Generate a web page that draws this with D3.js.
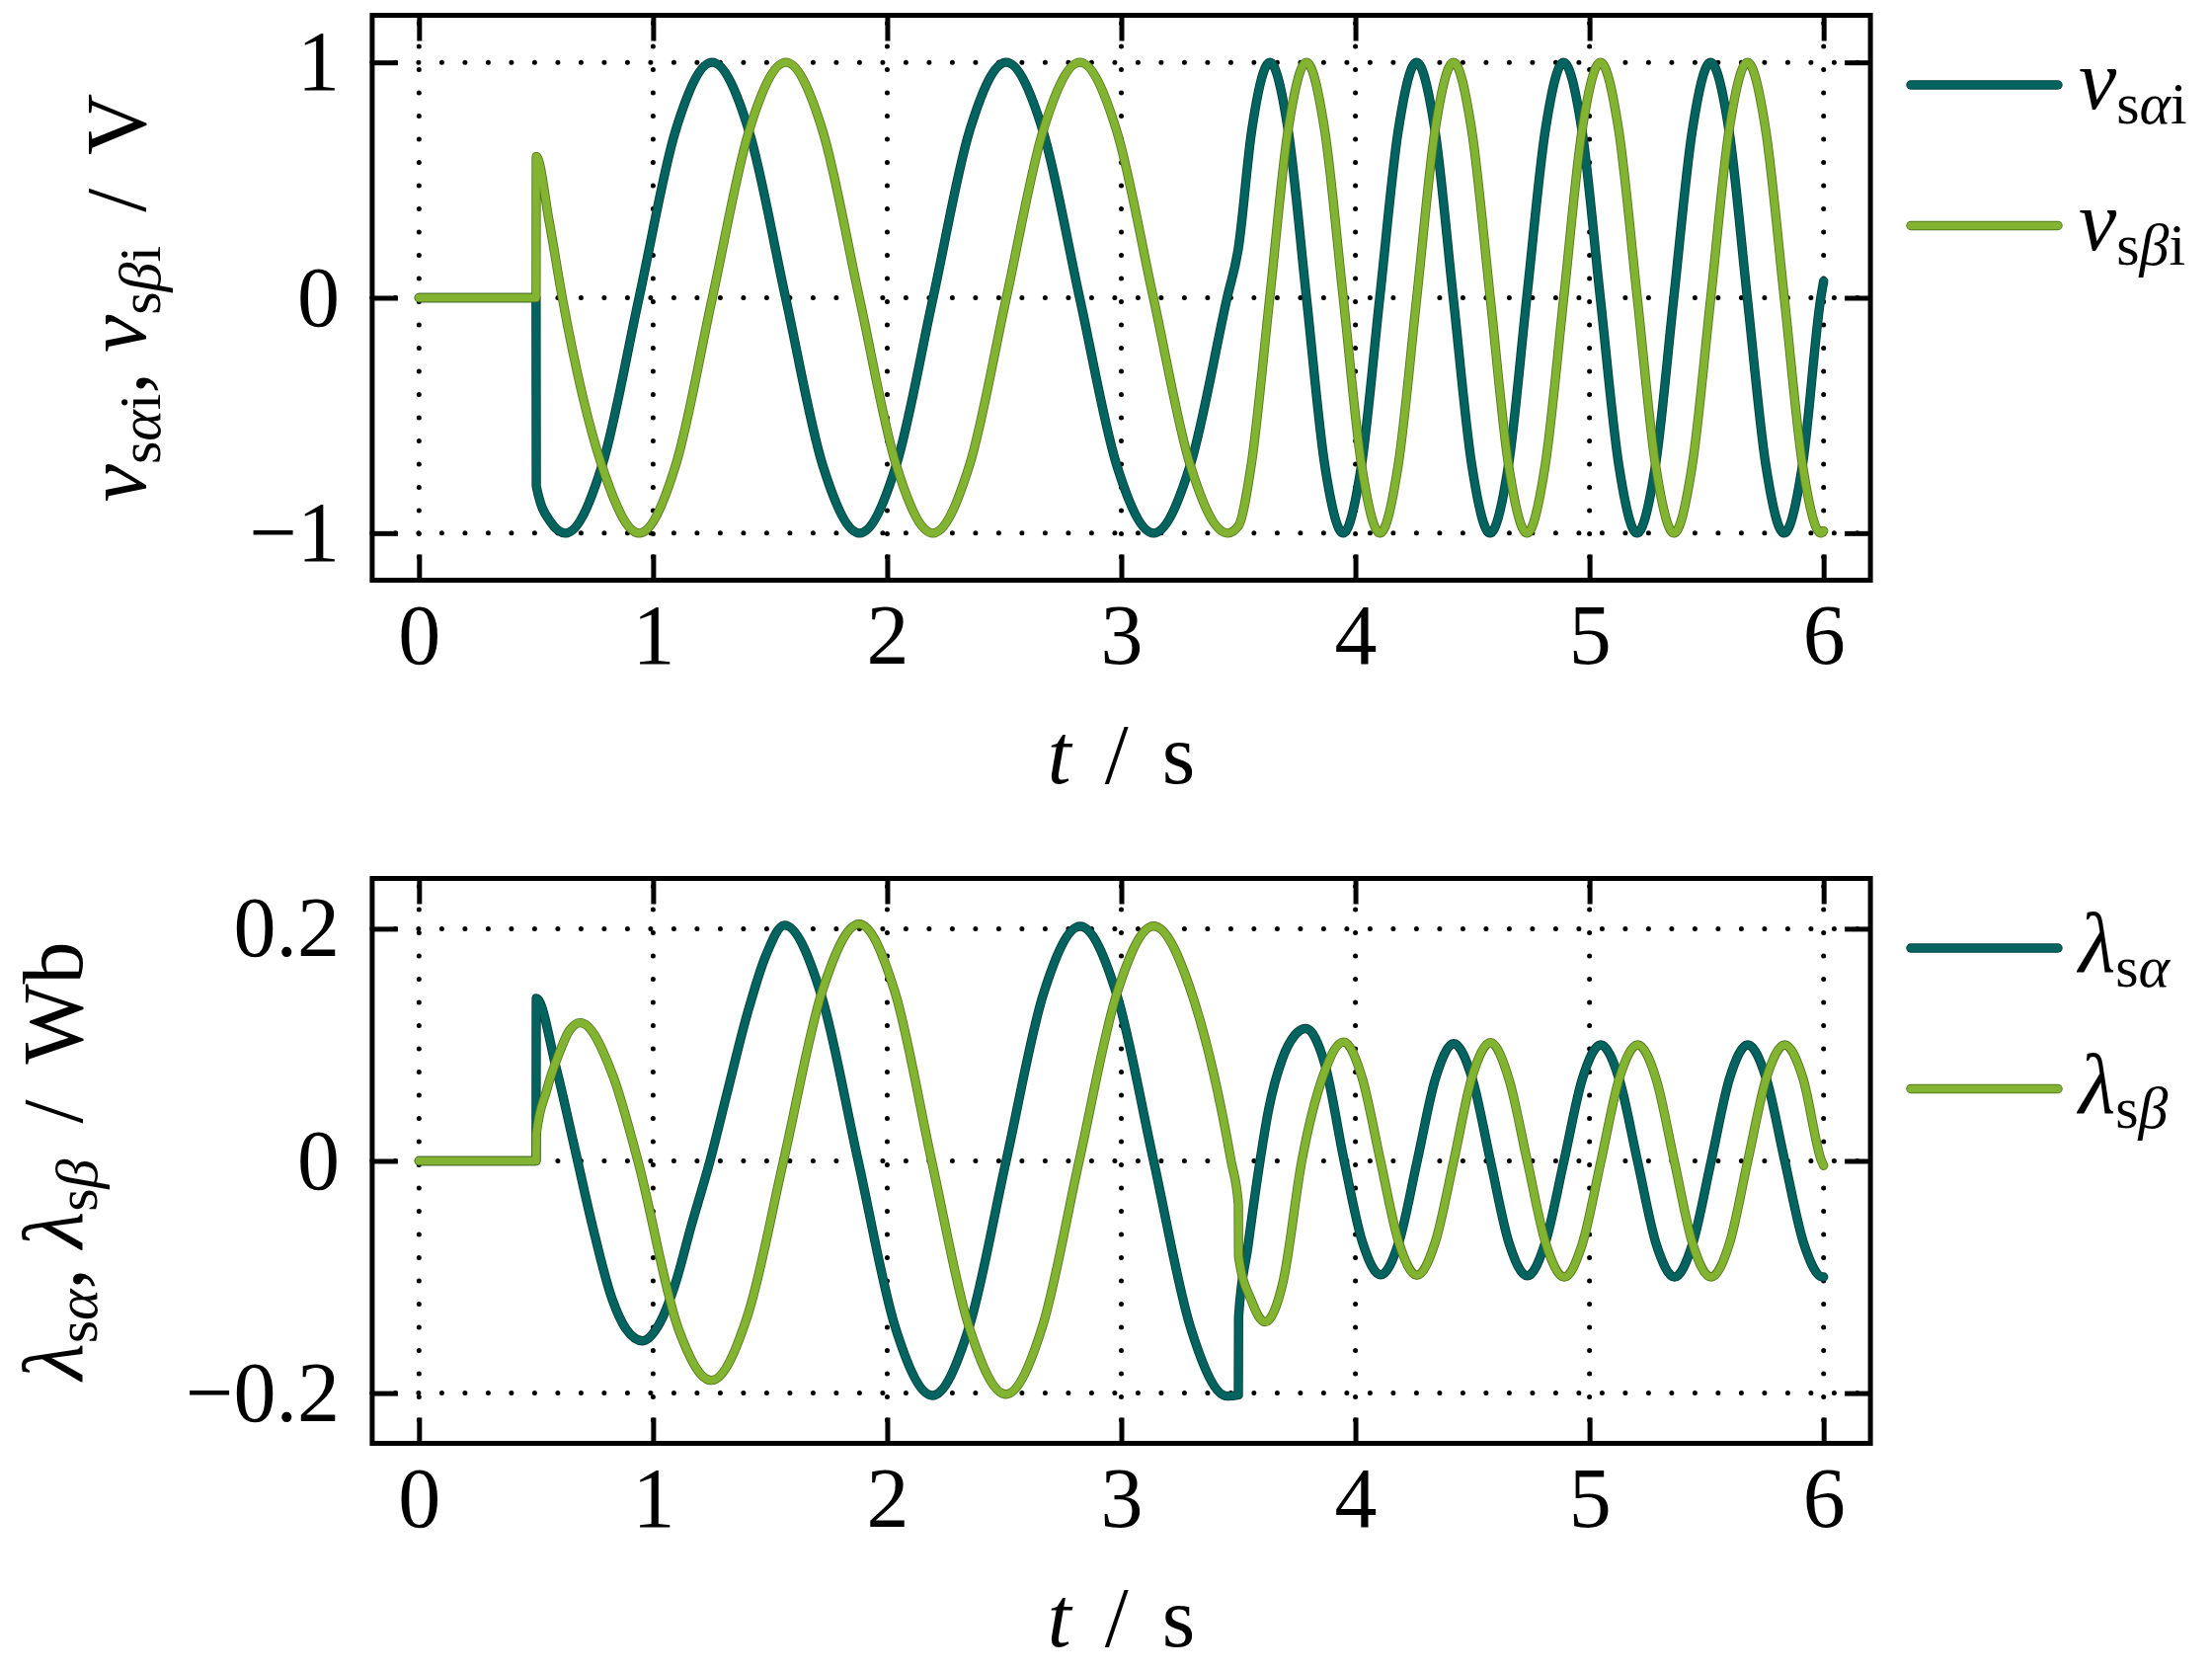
<!DOCTYPE html>
<html>
<head>
<meta charset="utf-8">
<script src="https://cdn.jsdelivr.net/npm/d3@7"></script>
<style>
    body { margin: 0; background: #ffffff; }
    text { font-family: "Liberation Serif", "DejaVu Serif", serif; fill: #000000; }
</style>
</head>
<body>
<div class="chart"></div>
<script>
// Tick values and labels (both panels share the time axis)
var t_ticks = [0, 1, 2, 3, 4, 5, 6];
var t_tick_labels = ["0", "1", "2", "3", "4", "5", "6"];
var v_ticks = [-1, 0, 1];
var v_tick_labels = ["\u22121", "0", "1"];
var flux_ticks = [-0.2, 0, 0.2];
var flux_tick_labels = ["\u22120.2", "0", "0.2"];

// Voltages, [t / s, v / V]
var v_s_alpha_i = [
    [0, 0], [0.5, 0], [0.501, -0.80], [0.56, -0.95], [0.626, -1],
    [0.783, -0.71], [0.94, 0], [1.096, 0.71], [1.252, 1],
    [1.409, 0.71], [1.566, 0], [1.724, -0.71], [1.882, -1],
    [2.039, -0.71], [2.196, 0], [2.352, 0.71], [2.508, 1],
    [2.665, 0.71], [2.822, 0], [2.98, -0.71], [3.138, -1],
    [3.295, -0.71], [3.452, 0], [3.5, 0.21], [3.557, 0.71], [3.635, 1],
    [3.713, 0.71], [3.791, 0], [3.869, -0.71], [3.948, -1],
    [4.026, -0.71], [4.104, 0], [4.183, 0.71], [4.261, 1],
    [4.34, 0.71], [4.418, 0], [4.497, -0.71], [4.575, -1],
    [4.654, -0.71], [4.732, 0], [4.811, 0.71], [4.889, 1],
    [4.968, 0.71], [5.046, 0], [5.125, -0.71], [5.203, -1],
    [5.282, -0.71], [5.36, 0], [5.439, 0.71], [5.517, 1],
    [5.596, 0.71], [5.674, 0], [5.753, -0.71], [5.831, -1],
    [5.91, -0.71], [5.988, 0], [6.0, 0.07]
];
var v_s_beta_i = [
    [0, 0], [0.5, 0], [0.501, 0.60], [0.555, 0.33], [0.612, 0],
    [0.78, -0.71], [0.94, -1], [1.097, -0.71], [1.253, 0],
    [1.41, 0.71], [1.567, 1], [1.724, 0.71], [1.881, 0],
    [2.038, -0.71], [2.195, -1], [2.352, -0.71], [2.509, 0],
    [2.666, 0.71], [2.823, 1], [2.98, 0.71], [3.137, 0],
    [3.294, -0.71], [3.454, -1], [3.5, -0.97], [3.555, -0.71],
    [3.634, 0], [3.712, 0.71], [3.791, 1], [3.869, 0.71],
    [3.948, 0], [4.026, -0.71], [4.105, -1], [4.183, -0.71],
    [4.262, 0], [4.34, 0.71], [4.419, 1], [4.497, 0.71],
    [4.576, 0], [4.654, -0.71], [4.733, -1], [4.811, -0.71],
    [4.89, 0], [4.968, 0.71], [5.047, 1], [5.125, 0.71],
    [5.204, 0], [5.282, -0.71], [5.361, -1], [5.439, -0.71],
    [5.518, 0], [5.596, 0.71], [5.675, 1], [5.753, 0.71],
    [5.832, 0], [5.91, -0.71], [5.989, -1], [6.0, -0.99]
];

// Flux linkages, [t / s, lambda / Wb]
var lambda_s_alpha = [
    [0, 0], [0.5, 0], [0.501, 0.14], [0.586, 0.08], [0.664, 0.012],
    [0.741, -0.056], [0.825, -0.119], [0.882, -0.144], [0.956, -0.155],
    [1.022, -0.142], [1.093, -0.107], [1.163, -0.056], [1.243, 0],
    [1.318, 0.06], [1.40, 0.125], [1.48, 0.176], [1.561, 0.203],
    [1.718, 0.143], [1.876, 0], [2.034, -0.143], [2.193, -0.202],
    [2.35, -0.143], [2.508, 0], [2.666, 0.143], [2.824, 0.202],
    [2.981, 0.143], [3.138, 0], [3.295, -0.143], [3.453, -0.2026],
    [3.5, -0.2015], [3.501, -0.1345], [3.54, -0.075], [3.585, -0.01],
    [3.63, 0.045], [3.688, 0.088], [3.74, 0.108], [3.788, 0.114],
    [3.87, 0.083], [3.952, 0],
    [4.03, -0.07], [4.108, -0.098], [4.186, -0.07], [4.264, 0],
    [4.342, 0.071], [4.42, 0.101], [4.499, 0.071], [4.577, 0],
    [4.655, -0.07], [4.734, -0.099], [4.812, -0.07], [4.891, 0],
    [4.97, 0.071], [5.048, 0.1], [5.126, 0.071], [5.205, 0],
    [5.284, -0.071], [5.363, -0.1], [5.441, -0.071], [5.52, 0],
    [5.598, 0.071], [5.676, 0.1], [5.755, 0.071], [5.834, 0],
    [5.915, -0.071], [5.997, -0.1], [6.0, -0.1]
];
var lambda_s_beta = [
    [0, 0], [0.5, 0], [0.501, 0.023], [0.544, 0.06], [0.601, 0.094],
    [0.643, 0.1125], [0.689, 0.119], [0.829, 0.073], [0.935, 0],
    [1.107, -0.144], [1.249, -0.189], [1.407, -0.131], [1.557, 0],
    [1.722, 0.146], [1.88, 0.204], [2.035, 0.144], [2.19, 0],
    [2.348, -0.142], [2.507, -0.201], [2.664, -0.142], [2.82, 0],
    [2.979, 0.143], [3.138, 0.2023], [3.303, 0.143], [3.469, 0],
    [3.5, -0.037], [3.501, -0.082], [3.555, -0.12], [3.614, -0.1387],
    [3.692, -0.103], [3.771, 0], [3.86, 0.072], [3.95, 0.1024],
    [4.028, 0.072], [4.107, 0], [4.185, -0.07], [4.263, -0.0985],
    [4.341, -0.07], [4.42, 0], [4.498, 0.072], [4.577, 0.102],
    [4.655, 0.071], [4.734, 0], [4.813, -0.071], [4.892, -0.1],
    [4.97, -0.071], [5.049, 0], [5.127, 0.071], [5.206, 0.1],
    [5.284, 0.071], [5.362, 0], [5.44, -0.071], [5.519, -0.1],
    [5.598, -0.071], [5.676, 0], [5.755, 0.071], [5.834, 0.1],
    [5.912, 0.071], [5.991, 0], [6.0, -0.004]
];

// Rich text pieces: it = italic, sub = subscript
var v_alpha_name = [{t: "v", it: true}, {t: "s", sub: true}, {t: "\u03b1", sub: true, it: true}, {t: "i", sub: true}];
var v_beta_name = [{t: "v", it: true}, {t: "s", sub: true}, {t: "\u03b2", sub: true, it: true}, {t: "i", sub: true}];
var l_alpha_name = [{t: "\u03bb", it: true}, {t: "s", sub: true}, {t: "\u03b1", sub: true, it: true}];
var l_beta_name = [{t: "\u03bb", it: true}, {t: "s", sub: true}, {t: "\u03b2", sub: true, it: true}];

// Layout
var CHART_W = 2240, CHART_H = 1691;
var PLOT_X0 = 376.9, PLOT_X1 = 1894.1;
var PLOT_H = 572;
var FONT_SIZE = 86, SUB_SIZE = 60, SUB_SHIFT = 15;
var TICK_LEN = 26, FRAME_W = 5;
var LINE_W = 7.6, EDGE_W = 9.4;
var COLOR_ALPHA = "#03645f", EDGE_ALPHA = "#01403d";
var COLOR_BETA = "#83b431", EDGE_BETA = "#55781c";
var LEGEND_X0 = 1935, LEGEND_X1 = 2084, LEGEND_TEXT_X = 2105;

var svg = d3.select(".chart").append("svg")
        .attr("width", CHART_W)
        .attr("height", CHART_H);

svg.append("rect").attr("width", CHART_W).attr("height", CHART_H).attr("fill", "#ffffff");

var x = d3.scaleLinear().domain([-0.2, 6.2]).range([PLOT_X0, PLOT_X1]);

function add_rich_text(sel, parts) {
    var shifted = false;
    parts.forEach(function (p) {
        var ts = sel.append("tspan").text(p.t);
        if (p.sub && !shifted) { ts.attr("dy", SUB_SHIFT); shifted = true; }
        else if (!p.sub && shifted) { ts.attr("dy", -SUB_SHIFT); shifted = false; }
        if (p.dx) ts.attr("dx", p.dx);
        ts.attr("font-size", p.sub ? SUB_SIZE : FONT_SIZE);
        if (p.it) ts.attr("font-style", "italic");
    });
}

function draw_panel(cfg) {
    var y0 = cfg.top, y1 = cfg.top + PLOT_H;
    var y = d3.scaleLinear().domain(cfg.y_domain).range([y1, y0]);
    var g = svg.append("g");

    // Dotted grid at every tick
    var grid = g.append("g")
            .attr("stroke", "#000")
            .attr("stroke-width", 5)
            .attr("stroke-linecap", "round")
            .attr("stroke-dasharray", "0,23.5");
    t_ticks.forEach(function (t) {
        grid.append("line").attr("x1", x(t)).attr("x2", x(t)).attr("y1", y1).attr("y2", y0);
    });
    cfg.y_ticks.forEach(function (v) {
        grid.append("line").attr("x1", PLOT_X0).attr("x2", PLOT_X1).attr("y1", y(v)).attr("y2", y(v));
    });

    // Curves: a darker edge under each coloured line
    var line = d3.line()
            .x(function (d) { return x(d[0]); })
            .y(function (d) { return y(d[1]); })
            .curve(d3.curveMonotoneX);
    cfg.series.forEach(function (s) {
        g.append("path").attr("d", line(s.data)).attr("fill", "none")
                .attr("stroke", s.edge).attr("stroke-width", EDGE_W)
                .attr("stroke-linejoin", "round").attr("stroke-linecap", "round");
        g.append("path").attr("d", line(s.data)).attr("fill", "none")
                .attr("stroke", s.color).attr("stroke-width", LINE_W)
                .attr("stroke-linejoin", "round").attr("stroke-linecap", "round");
    });

    // Axes with inward ticks on all four sides
    function style_axis(a) {
        a.select(".domain").remove();
        a.selectAll(".tick line").attr("stroke", "#000").attr("stroke-width", FRAME_W);
        a.attr("font-family", "Liberation Serif, DejaVu Serif, serif").attr("font-size", FONT_SIZE);
    }
    g.append("g").attr("transform", "translate(0," + y1 + ")")
            .call(d3.axisBottom(x).tickValues(t_ticks)
                    .tickFormat(function (d, i) { return t_tick_labels[i]; })
                    .tickSize(-TICK_LEN).tickPadding(23.5))
            .call(style_axis);
    g.append("g").attr("transform", "translate(0," + y0 + ")")
            .call(d3.axisTop(x).tickValues(t_ticks).tickFormat("").tickSize(-TICK_LEN))
            .call(style_axis);
    g.append("g").attr("transform", "translate(" + PLOT_X0 + ",0)")
            .call(d3.axisLeft(y).tickValues(cfg.y_ticks)
                    .tickFormat(function (d, i) { return cfg.y_tick_labels[i]; })
                    .tickSize(-TICK_LEN).tickPadding(33))
            .call(style_axis);
    g.append("g").attr("transform", "translate(" + PLOT_X1 + ",0)")
            .call(d3.axisRight(y).tickValues(cfg.y_ticks).tickFormat("").tickSize(-TICK_LEN))
            .call(style_axis);

    // Frame
    g.append("rect").attr("x", PLOT_X0).attr("y", y0)
            .attr("width", PLOT_X1 - PLOT_X0).attr("height", PLOT_H)
            .attr("fill", "none").attr("stroke", "#000").attr("stroke-width", FRAME_W);

    // x label
    var xl = g.append("text").attr("x", (PLOT_X0 + PLOT_X1) / 2).attr("y", y1 + 205.5)
            .attr("text-anchor", "middle");
    add_rich_text(xl, [{t: "t", it: true}, {t: "/", dx: 34}, {t: "s", dx: 34}]);

    // y label, rotated
    var yl = g.append("text")
            .attr("transform", "translate(" + cfg.ylabel_x + "," + (y0 + PLOT_H / 2) + ") rotate(-90)")
            .attr("text-anchor", "middle");
    add_rich_text(yl, cfg.ylabel);

    // Legend
    cfg.series.forEach(function (s, i) {
        var ly = y0 + 70.5 + i * 142.5;
        g.append("line").attr("x1", LEGEND_X0).attr("x2", LEGEND_X1).attr("y1", ly).attr("y2", ly)
                .attr("stroke", s.edge).attr("stroke-width", EDGE_W).attr("stroke-linecap", "round");
        g.append("line").attr("x1", LEGEND_X0).attr("x2", LEGEND_X1).attr("y1", ly).attr("y2", ly)
                .attr("stroke", s.color).attr("stroke-width", LINE_W).attr("stroke-linecap", "round");
        var lt = g.append("text").attr("x", LEGEND_TEXT_X).attr("y", ly + 24);
        add_rich_text(lt, s.name);
    });
}

// Top panel: voltages
draw_panel({
    top: 15.5,
    y_domain: [-1.2, 1.2],
    y_ticks: v_ticks,
    y_tick_labels: v_tick_labels,
    ylabel_x: 147,
    ylabel: v_alpha_name.concat([{t: ","}, {t: "v", it: true, dx: 20}],
            v_beta_name.slice(1), [{t: "/", dx: 34}, {t: "V", dx: 34}]),
    series: [
        {data: v_s_alpha_i, color: COLOR_ALPHA, edge: EDGE_ALPHA, name: v_alpha_name},
        {data: v_s_beta_i, color: COLOR_BETA, edge: EDGE_BETA, name: v_beta_name}
    ]
});

// Bottom panel: flux linkages
draw_panel({
    top: 889.5,
    y_domain: [-0.2433, 0.2433],
    y_ticks: flux_ticks,
    y_tick_labels: flux_tick_labels,
    ylabel_x: 83,
    ylabel: l_alpha_name.concat([{t: ","}, {t: "\u03bb", it: true, dx: 20}],
            l_beta_name.slice(1), [{t: "/", dx: 36}, {t: "Wb", dx: 36}]),
    series: [
        {data: lambda_s_alpha, color: COLOR_ALPHA, edge: EDGE_ALPHA, name: l_alpha_name},
        {data: lambda_s_beta, color: COLOR_BETA, edge: EDGE_BETA, name: l_beta_name}
    ]
});
</script>
</body>
</html>
